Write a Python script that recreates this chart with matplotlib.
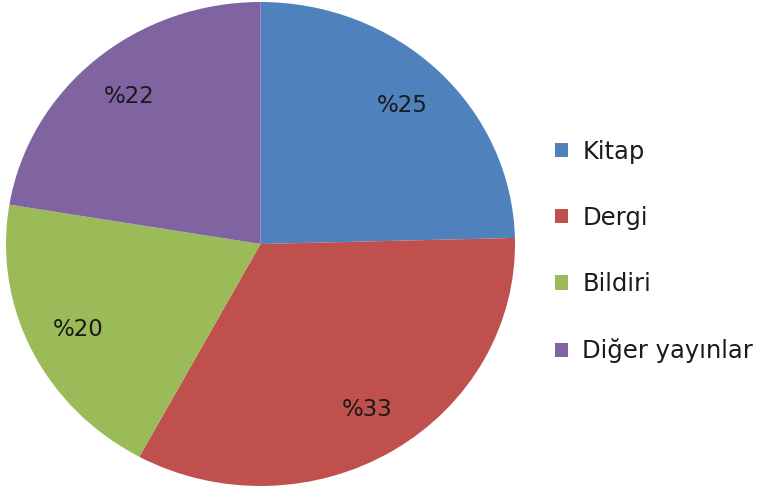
import matplotlib
matplotlib.use('Agg')
import matplotlib.pyplot as plt

# publication types and their shares (%)
labels = ['Kitap', 'Dergi', 'Bildiri', 'Diğer yayınlar']
shares = [24.6, 33.3, 19.7, 22.4]
colors = ['#4F81BD', '#C0504D', '#9BBB59', '#8064A2']

fig = plt.figure(figsize=(7.77, 4.88), dpi=100)
# pie area in pixels: x 6..515, y 2..486 (slightly stretched, like the original)
ax = fig.add_axes([6 / 777, 2 / 488, 509 / 777, 484 / 488])

wedges, texts, autotexts = ax.pie(
    shares, colors=colors, startangle=90, counterclock=False,
    autopct=lambda p: '%' + '{:.0f}'.format(p), pctdistance=0.8,
    radius=1.0, textprops={'fontsize': 16.5, 'color': '#1a1a1a'})
ax.set_aspect('auto')
ax.set_xlim(-1, 1)
ax.set_ylim(-1, 1)

leg = fig.legend(wedges, labels, loc='center left',
                 bbox_to_anchor=(555 / 777, 1 - 251.5 / 488),
                 frameon=False, fontsize=17.5, borderpad=0, borderaxespad=0,
                 handlelength=0.52, handleheight=0.52, handletextpad=0.6,
                 labelspacing=1.74)
for t in leg.get_texts():
    t.set_color('#1a1a1a')

fig.savefig('out.png', dpi=100)
